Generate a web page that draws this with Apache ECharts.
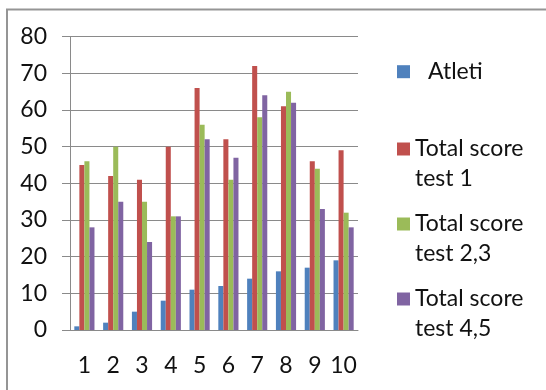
<!DOCTYPE html>
<html>
<head>
<meta charset="utf-8">
<script src="https://cdn.jsdelivr.net/npm/echarts@6/dist/echarts.min.js"></script>
<style>
  html, body { margin: 0; padding: 0; background: #fff; }
  #chart { width: 546px; height: 390px; }
</style>
</head>
<body>
<div id="chart"></div>
<script>
// data
var categories = ['1', '2', '3', '4', '5', '6', '7', '8', '9', '10'];
var atleti = [1, 2, 5, 8, 11, 12, 14, 16, 17, 19];
var test1 = [45, 42, 41, 50, 66, 52, 72, 61, 46, 49];
var test23 = [46, 50, 35, 31, 56, 41, 58, 65, 44, 32];
var test45 = [28, 35, 24, 31, 52, 47, 64, 62, 33, 28];
var seriesNames = ['Atleti', 'Total score\ntest 1', 'Total score\ntest 2,3', 'Total score\ntest 4,5'];
var colors = ['#4F81BD', '#C0504D', '#9BBB59', '#8064A2'];

var font = 'Lato';
var fs = 23;
var lineH = 29.5;

var chart = echarts.init(document.getElementById('chart'));

// one legend per item so each can sit where it is in the picture;
// two-line names get an empty first line so the square lines up with "Total score"
function legendFor(name, iconCenter, single) {
    var half = single ? lineH / 2 : lineH * 1.5;
    return {
        data: [name],
        left: 397,
        top: iconCenter - half,
        padding: 0,
        icon: 'rect',
        itemWidth: 13,
        itemHeight: 13,
        selectedMode: false,
        formatter: function (n) { return single ? n : ' \n' + n; },
        textStyle: {
            fontFamily: font,
            fontSize: fs,
            color: '#111',
            lineHeight: lineH,
            padding: single ? [0, 0, 0, 13] : 0
        }
    };
}

function bar(name, data, color) {
    return {
        name: name,
        type: 'bar',
        data: data,
        barGap: 0,
        barCategoryGap: '30%',
        itemStyle: { color: color }
    };
}

chart.setOption({
    animation: false,
    color: colors,
    graphic: [{
        type: 'rect',
        shape: { x: 7, y: 9.5, width: 600, height: 400 },
        style: { fill: 'none', stroke: '#959595', lineWidth: 2 }
    }],
    legend: [
        legendFor(seriesNames[0], 71.7, true),
        legendFor(seriesNames[1], 149, false),
        legendFor(seriesNames[2], 224, false),
        legendFor(seriesNames[3], 299, false)
    ],
    grid: { left: 70, right: 188, top: 36.7, bottom: 60 },
    xAxis: {
        type: 'category',
        data: categories,
        axisLine: { lineStyle: { color: '#8a8a8a', width: 1 } },
        axisTick: { length: 9, lineStyle: { color: '#8a8a8a' } },
        axisLabel: { interval: 0, fontFamily: font, fontSize: fs, color: '#111', margin: 24 }
    },
    yAxis: {
        type: 'value',
        min: 0,
        max: 80,
        interval: 10,
        axisLine: { show: true, lineStyle: { color: '#8a8a8a', width: 1 } },
        axisTick: { show: true, length: 8, lineStyle: { color: '#8a8a8a' } },
        splitLine: { lineStyle: { color: '#8a8a8a', width: 1 } },
        axisLabel: { fontFamily: font, fontSize: fs, color: '#111', margin: 23 }
    },
    series: [
        bar(seriesNames[0], atleti, colors[0]),
        bar(seriesNames[1], test1, colors[1]),
        bar(seriesNames[2], test23, colors[2]),
        bar(seriesNames[3], test45, colors[3])
    ]
});
</script>
</body>
</html>
